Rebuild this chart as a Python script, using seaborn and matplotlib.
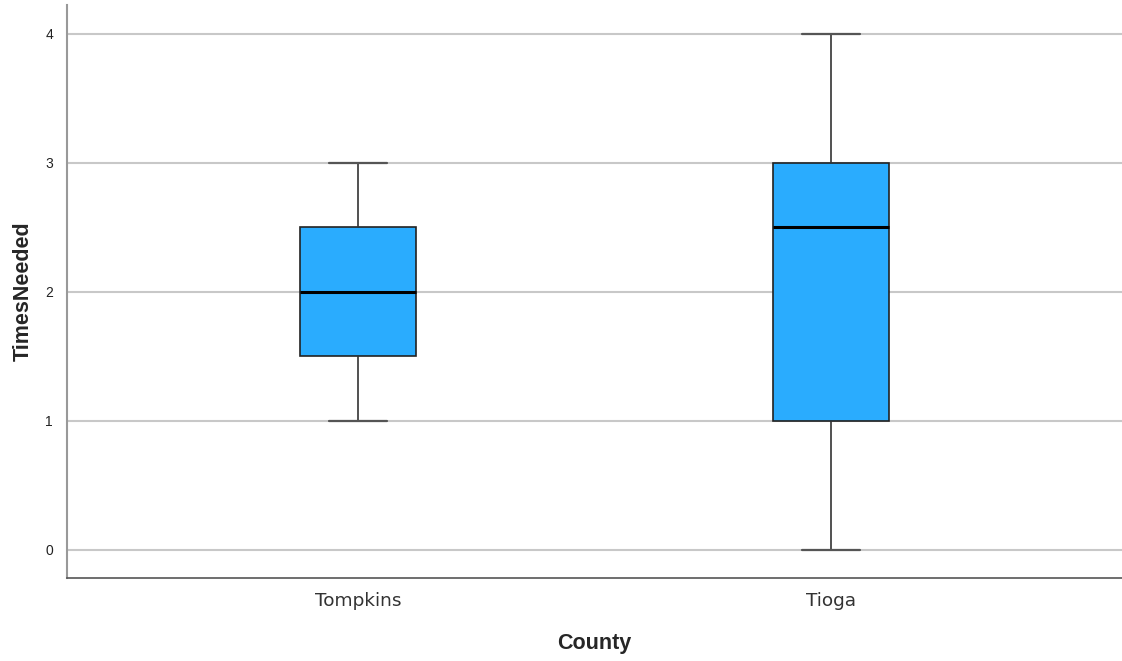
import pandas as pd
import matplotlib
matplotlib.use("Agg")
import matplotlib.pyplot as plt
import seaborn as sns

# raw responses per county (quartiles match the reference boxes)
tompkins = [1, 2, 3]
tioga = [0, 1, 1, 2, 3, 3, 3, 4]
counties = ["Tompkins", "Tioga"]
y_ticks = [0, 1, 2, 3, 4]

df = pd.DataFrame({
    "County": ["Tompkins"] * len(tompkins) + ["Tioga"] * len(tioga),
    "TimesNeeded": tompkins + tioga,
})

sns.set_style("white")
plt.rcParams["font.family"] = ["Liberation Sans", "DejaVu Sans"]

fig = plt.figure(figsize=(11.22, 6.61), dpi=100)
ax = fig.add_axes([0.0597, 0.1256, 0.9403, 0.8669])

# grid lines under the boxes
for t in y_ticks:
    ax.axhline(t, color="#c8c8c8", lw=1.5, zorder=0)

sns.boxplot(data=df, x="County", y="TimesNeeded", order=counties,
            color="#2aacfe", saturation=1, width=0.245, whis=(0, 100),
            linewidth=1.2, linecolor="#222222",
            medianprops=dict(color="#000000", lw=2.2),
            whiskerprops=dict(color="#333333", lw=1.2),
            capprops=dict(color="#555555", lw=1.6),
            boxprops=dict(edgecolor="#222222", lw=1.2),
            ax=ax, zorder=2)

ax.set_xlim(-0.615, 1.615)
ax.set_ylim(-0.217, 4.225)
ax.set_yticks(y_ticks)
ax.set_yticklabels([str(t) for t in y_ticks], fontsize=10, color="#222222")
ax.set_xticks(range(len(counties)))
ax.set_xticklabels(counties, fontsize=13.3, color="#333333", family="DejaVu Sans")
ax.tick_params(axis="x", length=0, pad=10)
ax.tick_params(axis="y", length=0, pad=10)

ax.set_xlabel("County", fontsize=15.5, fontweight="bold", labelpad=17)
ax.set_ylabel("TimesNeeded", fontsize=15.5, fontweight="bold", labelpad=8)

for s in ["top", "right"]:
    ax.spines[s].set_visible(False)
ax.spines["left"].set_color("#999999")
ax.spines["left"].set_linewidth(1.5)
ax.spines["bottom"].set_color("#555555")
ax.spines["bottom"].set_linewidth(1.2)

fig.savefig("out.png", dpi=100)
